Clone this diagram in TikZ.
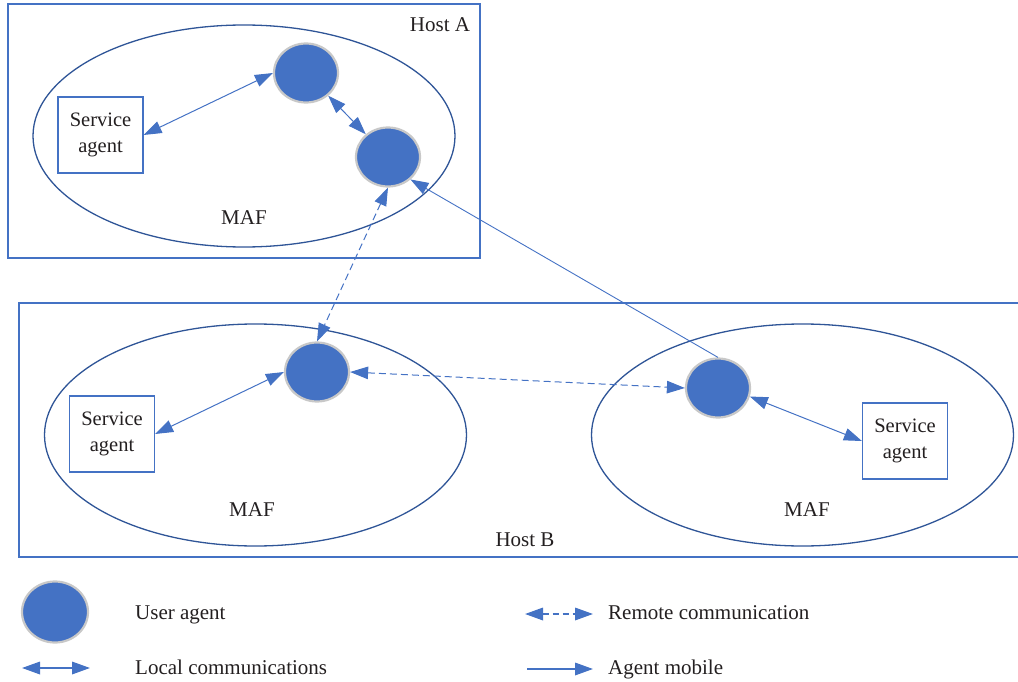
\documentclass[tikz,border=0pt]{standalone}
\usepackage{fontspec}
\setmainfont{Liberation Serif}
\usetikzlibrary{arrows.meta,shapes.geometric}
\definecolor{ublue}{HTML}{4472C4}
\definecolor{eblue}{HTML}{2F5597}
\definecolor{ring}{HTML}{C8C8C8}
\definecolor{txt}{HTML}{231F20}

\begin{document}
\begin{tikzpicture}[x=1pt,y=-1pt,
  font=\fontsize{21}{26}\selectfont, text=txt,
  >={Triangle[length=18pt 0 0,width=12.5pt 0 0]},
  hostbox/.style={draw=ublue, line width=1.4pt},
  maf/.style={ellipse, draw=eblue, line width=1.3pt, minimum width=422pt, minimum height=222pt, inner sep=0pt},
  useragent/.style={ellipse, fill=ublue, draw=ring, line width=2.2pt, minimum width=64pt, minimum height=59pt, inner sep=0pt},
  servicebox/.style={draw=ublue, line width=1.2pt, minimum width=85pt, minimum height=76pt, align=center, inner sep=0pt,
    font=\fontsize{20.5}{26}\selectfont},
  localcom/.style={draw=ublue, line width=1pt, <->},
  remotecom/.style={localcom, dash pattern=on 7pt off 4pt},
  mobile/.style={draw=ublue, line width=0.9pt, ->},
  legendline/.style={line width=1.8pt},
  lbl/.style={inner sep=0pt}
]
\useasboundingbox (0,0) rectangle (1018,682);

% Host A
\draw[hostbox] (8,4) rectangle (480,258);
\node[lbl] (hostA) at (440,25) {Host A};
\node[maf] (mafA) at (244,136) {};
\node[lbl] (mafAlbl) at (244,218) {MAF};
\node[servicebox] (saA) at (100.5,135) {Service\\agent};
\node[useragent] (a1) at (306,73) {};
\node[useragent] (a2) at (388,157) {};

% Host B
\draw[hostbox] (19,303) rectangle (1030,557);
\node[lbl] (hostB) at (525,540) {Host B};
\node[maf] (mafB1) at (255.5,435) {};
\node[lbl] (mafB1lbl) at (252,510) {MAF};
\node[servicebox] (saB1) at (112,434) {Service\\agent};
\node[useragent] (b1) at (317,372) {};
\node[maf] (mafB2) at (802.5,435) {};
\node[lbl] (mafB2lbl) at (807,510) {MAF};
\node[servicebox] (saB2) at (905,441) {Service\\agent};
\node[useragent] (b2) at (718,388) {};

% connectors
\draw[localcom] (saA.east) -- (a1.west);
\draw[localcom] (a1) -- (a2);
\draw[remotecom] (a2.south) -- (b1.north);
\draw[remotecom] (b1.east) -- (b2.west);
\draw[mobile] (b2.north) -- (a2.-45);
\draw[localcom] (saB1.east) -- (b1.west);
\draw[localcom] (b2.-15) -- (saB2.west);

% legend
\node[useragent, minimum width=66pt, minimum height=61pt] (legUA) at (55,612) {};
\node[lbl, anchor=base west] (legUAtxt) at (135,619) {User agent};
\coordinate (legLa) at (22,668);
\coordinate (legLb) at (90,668);
\draw[localcom, legendline] (legLa) -- (legLb);
\node[lbl, anchor=base west] (legLtxt) at (135,674) {Local communications};
\coordinate (legRa) at (525,614);
\coordinate (legRb) at (593,614);
\draw[remotecom, legendline, dash pattern=on 6pt off 4pt] (legRa) -- (legRb);
\node[lbl, anchor=base west] (legRtxt) at (608,619) {Remote communication};
\coordinate (legMa) at (527,669);
\coordinate (legMb) at (593,669);
\draw[mobile, legendline] (legMa) -- (legMb);
\node[lbl, anchor=base west] (legMtxt) at (608,674) {Agent mobile};
\end{tikzpicture}
\end{document}
